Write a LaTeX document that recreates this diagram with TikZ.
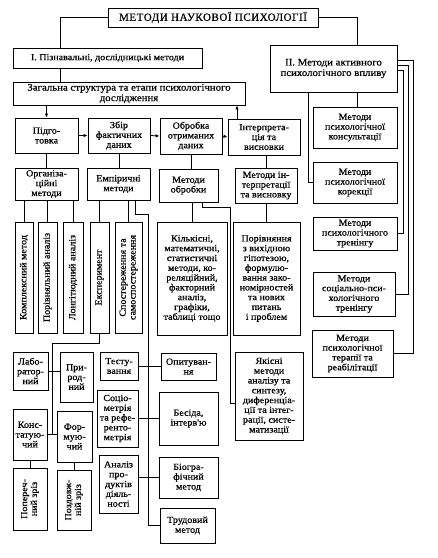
\documentclass[tikz,border=0pt]{standalone}
\usepackage{fontspec}
\setmainfont{Liberation Serif}
\newfontfamily\bodyfnt[FakeStretch=1.08,FakeBold=0.6]{Liberation Serif}
\newfontfamily\titlefnt[LetterSpace=5,FakeBold=0.6]{Liberation Serif}
\usetikzlibrary{arrows.meta}
\tikzset{
  box/.style={draw, line width=0.9pt, inner sep=1pt, align=center,
    font=\bodyfnt\fontsize{9.3}{9.8}\selectfont},
  bigtext/.style={font=\bodyfnt\fontsize{10}{10.5}\selectfont},
  conn/.style={line width=0.8pt},
  arr/.style={line width=0.8pt, -{Latex[length=4pt,width=3.5pt]}}
}
\newcommand\bx[7][]{\node[box, #1, minimum width={(#5-#3)*1pt}, minimum height={(#6-#4)*1pt}] (#2) at ({(#3+#5)/2},{(#4+#6)/2}) {#7};}
\newcommand\vbx[6]{\node[box, rotate=90, minimum width={(#5-#3)*1pt}, minimum height={(#4-#2)*1pt}] (#1) at ({(#2+#4)/2},{(#3+#5)/2}) {#6};}
\begin{document}
\begin{tikzpicture}[x=1pt,y=-1pt]
\fill[white] (0,0) rectangle (438,558);
\useasboundingbox (0,0) rectangle (438,558);
% boxes
\node[box, font=\titlefnt\fontsize{11}{12}\selectfont, minimum width=210pt, minimum height=19pt] (title) at (213,17.5) {МЕТОДИ НАУКОВОЇ ПСИХОЛОГІЇ};
\bx{I}{13}{48}{202}{68}{I. Пізнавальні, дослідницькі методи}
\bx[bigtext]{gen}{13}{82}{245}{105}{Загальна структура та етапи психологічного\\дослідження}
\bx[bigtext]{II}{270}{45}{397}{92}{II. Методи активного\\психологічного впливу}
\bx{prep}{15}{118}{78}{153}{Підго-\\товка}
\bx{zbir}{88}{118}{150}{153}{Збір\\фактичних\\даних}
\bx{obr}{160}{118}{222}{154}{Обробка\\отриманих\\даних}
\bx{int}{228}{119}{300}{155}{Інтерпрета-\\ція та\\висновки}
\bx{org}{15}{168}{78}{200}{Організа-\\ційні\\методи}
\bx{emp}{87}{168}{150}{200}{Емпіричні\\методи}
\bx{mobr}{159}{169}{218}{202}{Методи\\обробки}
\bx{mint}{235}{168}{297}{203}{Методи ін-\\терпретації\\та висновку}
\vbx{kompl}{15}{222}{33}{333}{Комплексний метод}
\vbx{porivn}{38}{222}{57}{333}{Порівняльний аналіз}
\vbx{long}{63}{222}{83}{333}{Лонгітюдний аналіз}
\vbx{exper}{90}{222}{109}{333}{Експеримент}
\vbx{spost}{115}{222}{142}{333}{Спостереження та\\самоспостереження}
\bx{kilk}{157}{222}{227}{335}{Кількісні,\\математичні,\\статистичні\\методи, ко-\\реляційний,\\факторний\\аналіз,\\графіки,\\таблиці тощо}
\bx{poriv}{233}{222}{300}{335}{Порівняння\\з вихідною\\гіпотезою,\\формулю-\\вання зако-\\номірностей\\та нових\\питань\\і проблем}
\bx{yak}{235}{352}{303}{440}{Якісні\\методи\\аналізу та\\синтезу,\\диференціа-\\ції та інтег-\\рації, систе-\\матизації}
\bx{lab}{13}{352}{48}{390}{Лабо-\\ратор-\\ний}
\bx{pryr}{60}{352}{93}{402}{При-\\род-\\ний}
\bx{konst}{13}{409}{47}{460}{Конс-\\татую-\\чий}
\bx{form}{57}{411}{92}{462}{Фор-\\мую-\\чий}
\vbx{poper}{13}{468}{47}{530}{Попереч-\\ний зріз}
\vbx{pozd}{57}{470}{91}{530}{Поздовж-\\ній зріз}
\bx{test}{100}{352}{138}{380}{Тесту-\\вання}
\bx{opyt}{161}{353}{216}{380}{Опитуван-\\ня}
\bx{socio}{97}{390}{138}{447}{Соціо-\\метрія\\та рефе-\\ренто-\\метрія}
\bx{besida}{159}{392}{218}{445}{Бесіда,\\інтерв'ю}
\bx{analiz}{99}{455}{138}{513}{Аналіз\\про-\\дуктів\\діяль-\\ності}
\bx{biogr}{159}{457}{218}{498}{Біогра-\\фічний\\метод}
\bx{trud}{160}{508}{215}{543}{Трудовий\\метод}
\bx{cons}{313}{107}{397}{148}{Методи\\психологічної\\консультації}
\bx{kor}{313}{162}{397}{203}{Методи\\психологічної\\корекції}
\bx{tren}{313}{217}{397}{250}{Методи\\психологічного\\тренінгу}
\bx{sptren}{313}{272}{395}{316}{Методи\\соціально-пси-\\хологічного\\тренінгу}
\bx{ter}{312}{330}{393}{377}{Методи\\психологічної\\терапії та\\реабілітації}
% helper coordinates
\coordinate (xI) at (60,0);
\coordinate (xII) at (357,0);
\coordinate (xup) at (237,0);
\coordinate (xe) at (135,0);
\coordinate (eb) at (148,214);
\coordinate (xm) at (202,0);
\coordinate (mb) at (230,207);
\coordinate (ym) at (0,403);
\coordinate (lb) at (52,343);
\coordinate (r1) at (413,60);
\coordinate (r2) at (408,65);
\coordinate (r3) at (403,70);
\coordinate (kx) at (308,0);
% connectors
\draw[conn] (title.west) -| (I.north -| xI);
\draw[conn] (title.east) -| (II.north -| xII);
\draw[conn] (I.south -| xI) -- (gen.north -| xI);
\draw[arr] (gen.south -| prep.north) -- (prep.north);
\draw[arr] (int.north -| xup) -- (gen.south -| xup);
\draw[arr] (prep.east) -- (zbir.west);
\draw[arr] (zbir.east) -- (obr.west);
\draw[arr] (obr.east) -- (int.west);
\draw[conn] (prep.south) -- (org.north -| prep.south);
\draw[conn] (zbir.south) -- (emp.north -| zbir.south);
\draw[conn] (obr.south) -- (mobr.north -| obr.south);
\draw[conn] (int.south -| mint.north) -- (mint.north);
\draw[conn] (org.south -| kompl.east) -- (kompl.east);
\draw[conn] (org.south -| porivn.east) -- (porivn.east);
\draw[conn] (org.south -| long.east) -- (long.east);
\draw[conn] (emp.south -| exper.east) -- (exper.east);
\draw[conn] (emp.south -| spost.east) -- (spost.east);
\draw[conn] (emp.south -| xe) |- (eb) -- (eb |- trud.west) -- (trud.west);
\draw[conn] (test.east) -- (test.east -| opyt.west);
\draw[conn] (socio.east) -- (socio.east -| besida.west);
\draw[conn] (analiz.east |- biogr.west) -- (biogr.west);
\draw[conn] (mobr.south -| kilk.north) -- (kilk.north);
\draw[conn] (mobr.south -| xm) |- (mb) -- (mb |- ym) -- (ym -| yak.west);
\draw[conn] (mint.south -| poriv.north) -- (poriv.north);
\draw[conn] (exper.west) |- (lb) -- (lb |- konst.east);
\draw[conn] (lab.east) -- (lab.east -| pryr.west);
\draw[conn] (konst.east) -- (konst.east -| form.west);
\draw[conn] (konst.south -| poper.east) -- (poper.east);
\draw[conn] (form.south -| pozd.east) -- (pozd.east);
\draw[conn] (r1 -| II.east) -- (r1) |- (ter.east);
\draw[conn] (r2 -| II.east) -- (r2) |- (sptren.east);
\draw[conn] (r3 -| II.east) -- (r3) |- (tren.east);
\draw[conn] (II.south -| xII) -- (cons.north -| xII);
\draw[conn] (II.south -| kx) |- (kor.west);
\end{tikzpicture}
\end{document}
